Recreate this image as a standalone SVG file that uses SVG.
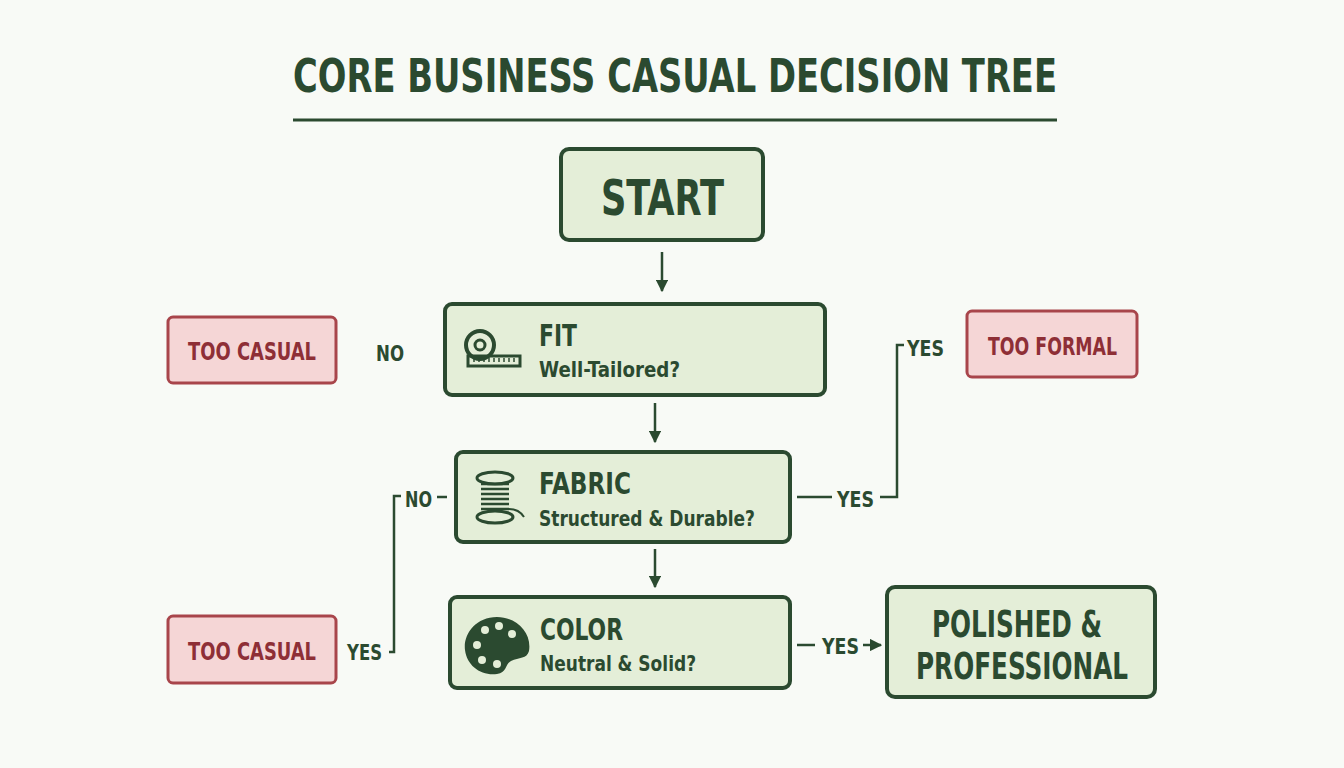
<svg xmlns="http://www.w3.org/2000/svg" width="1344" height="768" viewBox="0 0 1344 768">
<defs>
<style>
text{font-family:"DejaVu Sans Condensed","Liberation Sans",sans-serif;font-weight:bold;fill:#2b4a30}
.g{fill:#e4eed8;stroke:#2b4a30;stroke-width:4}
.r{fill:#f5d6d6;stroke:#a8454b;stroke-width:3}
.rt{fill:#8e2f36;font-size:25px}
.ln{fill:none;stroke:#2b4a30;stroke-width:2.5}
.lb{font-size:22px}
.h{font-size:31px}
.s{font-size:21px}
</style>
<marker id="a" viewBox="0 0 10 10" refX="9" refY="5" markerWidth="5" markerHeight="5" orient="auto"><path d="M0,0L10,5L0,10z" fill="#2b4a30"/></marker>
</defs>
<rect width="1344" height="768" fill="#f8faf6"/>
<text x="293" y="92" font-size="46" textLength="764" lengthAdjust="spacingAndGlyphs">CORE BUSINESS CASUAL DECISION TREE</text>
<line x1="293" y1="120" x2="1057" y2="120" stroke="#2b4a30" stroke-width="3"/>
<g id="start"><rect class="g" x="561" y="149" width="202" height="91" rx="8" stroke-width="5"/><text x="601" y="215" font-size="50" textLength="123" lengthAdjust="spacingAndGlyphs">START</text></g>
<g id="fit"><rect class="g" x="445" y="304" width="380" height="91" rx="7"/>
<circle cx="480" cy="345" r="14" fill="none" stroke="#2b4a30" stroke-width="4"/><circle cx="480" cy="345" r="5" fill="none" stroke="#2b4a30" stroke-width="3"/>
<path d="M468,356 L520,356 L520,366 L468,366 Z" fill="none" stroke="#2b4a30" stroke-width="3"/><path d="M474,358v4M479,358v4M484,358v4M489,358v4M494,358v4M499,358v4M504,358v4M509,358v4M514,358v4" stroke="#2b4a30" stroke-width="1.5"/>
<text class="h" x="539" y="346" textLength="38" lengthAdjust="spacingAndGlyphs">FIT</text><text class="s" x="539" y="377" textLength="141" lengthAdjust="spacingAndGlyphs">Well-Tailored?</text></g>
<g id="fabric"><rect class="g" x="456" y="452" width="334" height="90" rx="7"/>
<ellipse cx="495" cy="478" rx="18" ry="6" fill="none" stroke="#2b4a30" stroke-width="3"/><ellipse cx="495" cy="517" rx="18" ry="6" fill="none" stroke="#2b4a30" stroke-width="3"/>
<path d="M481,484h28M481,489h28M481,494h28M481,499h28M481,504h28M481,509h28" stroke="#2b4a30" stroke-width="2.5"/><path d="M509,509 q10,0 15,8" fill="none" stroke="#2b4a30" stroke-width="2"/>
<text class="h" x="539" y="494" textLength="92" lengthAdjust="spacingAndGlyphs">FABRIC</text><text class="s" x="539" y="526" textLength="216" lengthAdjust="spacingAndGlyphs">Structured &amp; Durable?</text></g>
<g id="color"><rect class="g" x="450" y="597" width="340" height="91" rx="7"/>
<path d="M497,617 c-22,0 -34,18 -32,33 c2,16 16,26 32,24 c10,-1 8,-10 14,-13 c8,-4 16,-2 18,-10 c3,-18 -12,-34 -32,-34z" fill="#2b4a30"/>
<g fill="#e4eed8"><circle cx="485" cy="630" r="4"/><circle cx="499" cy="626" r="4"/><circle cx="512" cy="634" r="4"/><circle cx="477" cy="645" r="4"/><circle cx="482" cy="660" r="4"/><circle cx="497" cy="664" r="4"/></g>
<text class="h" x="540" y="640" textLength="83" lengthAdjust="spacingAndGlyphs">COLOR</text><text class="s" x="540" y="671" textLength="156" lengthAdjust="spacingAndGlyphs">Neutral &amp; Solid?</text></g>
<g id="polished"><rect class="g" x="887" y="587" width="268" height="110" rx="8" stroke-width="6"/><text x="932" y="637" font-size="38" textLength="170" lengthAdjust="spacingAndGlyphs">POLISHED &amp;</text><text x="916" y="679" font-size="38" textLength="212" lengthAdjust="spacingAndGlyphs">PROFESSIONAL</text></g>
<g id="casual1"><rect class="r" x="168" y="317" width="168" height="66" rx="5"/><text class="rt" x="188" y="360" textLength="128" lengthAdjust="spacingAndGlyphs">TOO CASUAL</text></g>
<g id="casual2"><rect class="r" x="168" y="616" width="168" height="67" rx="5"/><text class="rt" x="188" y="660" textLength="128" lengthAdjust="spacingAndGlyphs">TOO CASUAL</text></g>
<g id="formal"><rect class="r" x="967" y="311" width="170" height="66" rx="5"/><text class="rt" x="988" y="355" textLength="129" lengthAdjust="spacingAndGlyphs">TOO FORMAL</text></g>
<g id="connectors">
<line class="ln" x1="662" y1="252" x2="662" y2="291" stroke-width="3" marker-end="url(#a)"/>
<line class="ln" x1="655" y1="403" x2="655" y2="442" stroke-width="3" marker-end="url(#a)"/>
<line class="ln" x1="655" y1="549" x2="655" y2="587" stroke-width="3" marker-end="url(#a)"/>
<text class="lb" x="376" y="361" textLength="28" lengthAdjust="spacingAndGlyphs">NO</text>
<polyline class="ln" points="401,496 394,496 394,652 389,652"/>
<text class="lb" x="347" y="660" textLength="35" lengthAdjust="spacingAndGlyphs">YES</text>
<text class="lb" x="405" y="507" textLength="27" lengthAdjust="spacingAndGlyphs">NO</text>
<line class="ln" x1="437" y1="497" x2="447" y2="497"/>
<line class="ln" x1="797" y1="497" x2="832" y2="497"/>
<text class="lb" x="837" y="507" textLength="37" lengthAdjust="spacingAndGlyphs">YES</text>
<polyline class="ln" points="880,497 897,497 897,345 904,345"/>
<text class="lb" x="907" y="356" textLength="37" lengthAdjust="spacingAndGlyphs">YES</text>
<line class="ln" x1="797" y1="645" x2="815" y2="645"/>
<text class="lb" x="822" y="654" textLength="37" lengthAdjust="spacingAndGlyphs">YES</text>
<line class="ln" x1="863" y1="645" x2="881" y2="645" marker-end="url(#a)"/>
</g>
</svg>
